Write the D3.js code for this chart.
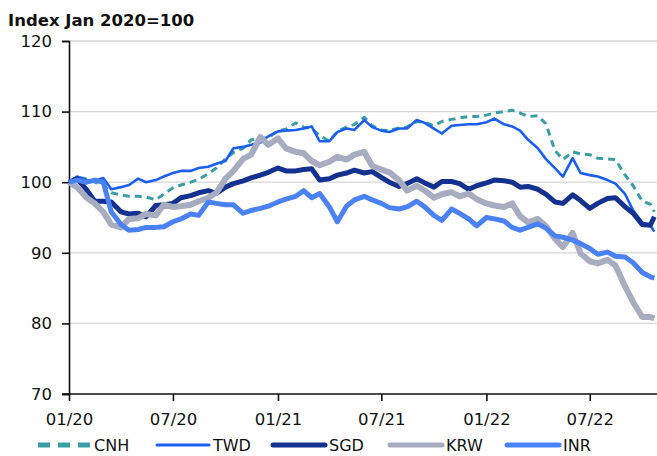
<!DOCTYPE html>
<html>
<head>
<meta charset="utf-8">
<script src="https://cdn.jsdelivr.net/npm/d3@7"></script>
<style>
  body { margin: 0; background: #fff; }
  text { font-family: 'DejaVu Sans', sans-serif; fill: #111; }
</style>
</head>
<body>
<svg id="svg"></svg>
<script>
// semi-monthly readings, index Jan 2020 = 100
const dates = [
  '2020-01-01','2020-01-15','2020-02-01','2020-02-15','2020-03-01','2020-03-15','2020-04-01','2020-04-15',
  '2020-05-01','2020-05-15','2020-06-01','2020-06-15','2020-07-01','2020-07-15','2020-08-01','2020-08-15',
  '2020-09-01','2020-09-15','2020-10-01','2020-10-15','2020-11-01','2020-11-15','2020-12-01','2020-12-15',
  '2021-01-01','2021-01-15','2021-02-01','2021-02-15','2021-03-01','2021-03-15','2021-04-01','2021-04-15',
  '2021-05-01','2021-05-15','2021-06-01','2021-06-15','2021-07-01','2021-07-15','2021-08-01','2021-08-15',
  '2021-09-01','2021-09-15','2021-10-01','2021-10-15','2021-11-01','2021-11-15','2021-12-01','2021-12-15',
  '2022-01-01','2022-01-15','2022-02-01','2022-02-15','2022-03-01','2022-03-15','2022-04-01','2022-04-15',
  '2022-05-01','2022-05-15','2022-06-01','2022-06-15','2022-07-01','2022-07-15','2022-08-01','2022-08-15',
  '2022-09-01','2022-09-15','2022-10-01','2022-10-15','2022-10-22'
]

const cnh = [
  100.0,100.7,100.5,100.0,99.6,98.5,98.2,98.0,98.0,97.9,97.5,98.3,99.2,99.6,100.0,100.4,
  101.2,102.0,103.3,104.2,104.8,106.0,106.2,106.3,107.3,107.5,108.4,107.8,107.6,106.6,105.8,107.2,
  107.8,108.2,109.2,108.0,107.4,107.3,107.7,107.8,108.6,108.5,108.0,108.6,108.9,109.1,109.3,109.3,
  109.5,109.8,110.0,110.2,109.8,109.3,109.4,108.3,104.5,103.2,104.3,104.0,103.9,103.4,103.3,103.2,
  101.0,99.5,97.3,96.9,95.8
]
const twd = [
  100.0,100.8,100.3,100.2,100.6,99.0,99.3,99.6,100.5,100.0,100.3,100.8,101.3,101.6,101.6,102.0,
  102.2,102.6,103.0,104.8,105.0,105.3,105.6,106.5,107.2,107.3,107.4,107.6,107.9,105.8,105.8,107.1,
  107.6,107.4,108.8,107.8,107.3,107.1,107.6,107.6,108.8,108.4,107.6,106.9,108.0,108.1,108.2,108.2,
  108.5,109.0,108.2,107.9,107.3,106.0,104.8,103.3,102.0,100.8,103.4,101.3,101.0,100.8,100.3,99.8,
  98.3,96.0,94.3,93.9,93.0
]
const sgd = [
  100.0,100.5,98.9,97.3,97.3,97.2,95.8,95.5,95.6,95.1,96.7,96.8,97.0,97.8,98.1,98.5,
  98.8,98.4,99.3,99.8,100.2,100.6,101.0,101.4,102.0,101.6,101.6,101.8,101.9,100.3,100.5,101.0,
  101.3,101.7,101.3,101.5,100.7,100.0,99.4,99.8,100.5,99.9,99.3,100.1,100.1,99.8,99.0,99.5,
  99.9,100.3,100.2,100.0,99.3,99.4,99.0,98.3,97.2,97.0,98.2,97.4,96.3,97.0,97.7,97.8,
  96.5,95.6,94.0,93.9,95.1
]
const krw = [
  100.0,99.3,97.8,97.0,95.8,94.0,93.6,94.8,94.9,95.5,95.3,96.8,96.5,96.6,96.8,97.3,
  97.8,98.5,100.5,101.6,103.3,103.9,106.4,105.3,106.2,104.8,104.3,104.1,103.0,102.4,102.9,103.6,
  103.2,103.9,104.3,102.3,101.8,101.4,100.3,98.8,99.5,98.8,97.8,98.3,98.6,98.0,98.4,97.6,
  97.0,96.7,96.5,97.0,95.2,94.3,94.8,93.8,92.0,90.8,92.8,89.9,88.8,88.5,89.0,88.2,
  85.2,83.0,80.9,80.9,80.7
]
const inr = [
  100.0,100.3,100.0,100.3,100.0,95.8,94.0,93.2,93.3,93.6,93.6,93.7,94.4,94.8,95.5,95.3,
  97.2,97.0,96.8,96.8,95.6,96.0,96.3,96.6,97.2,97.6,98.0,98.8,97.8,98.4,96.5,94.4,
  96.6,97.5,98.0,97.5,97.0,96.4,96.2,96.5,97.3,96.5,95.3,94.6,96.2,95.6,94.8,93.8,
  95.0,94.8,94.5,93.6,93.2,93.6,94.1,93.5,92.4,92.2,91.8,91.3,90.6,89.8,90.1,89.5,
  89.4,88.6,87.2,86.6,86.4
]

const seriesNames = ['CNH', 'TWD', 'SGD', 'KRW', 'INR']
const seriesValues = [cnh, twd, sgd, krw, inr]
const yTicks = [70, 80, 90, 100, 110, 120]
const xTicks = ['2020-01-01', '2020-07-01', '2021-01-01', '2021-07-01', '2022-01-01', '2022-07-01']

const styles = {
  CNH: { color: '#3b9ea6', width: 3, dash: '7,5' },
  TWD: { color: '#1a5ef2', width: 2.6, dash: null },
  SGD: { color: '#13318f', width: 5, dash: null },
  KRW: { color: '#a8acc1', width: 6, dash: null },
  INR: { color: '#4a81f4', width: 5, dash: null }
}

const W = 657, H = 456
const svg = d3.select('#svg').attr('width', W).attr('height', H)
const parse = d3.utcParse('%Y-%m-%d')

const x = d3.scaleUtc()
  .domain([parse('2020-01-01'), parse('2022-10-25')])
  .range([69, 656])
const y = d3.scaleLinear().domain([70, 120]).range([394, 41])

// title
svg.append('text').attr('x', 8).attr('y', 26)
  .style('font-weight', 'bold').style('font-size', '16.5px')
  .text('Index Jan 2020=100')

// gridlines
svg.append('g').selectAll('line').data(yTicks.filter(d => d > 70)).join('line')
  .attr('x1', 69).attr('x2', W).attr('y1', d => y(d)).attr('y2', d => y(d))
  .attr('stroke', '#d6d6d6').attr('stroke-width', 1.3)

// y axis
const yAxis = svg.append('g').attr('transform', 'translate(69,0)')
  .call(d3.axisLeft(y).tickValues(yTicks).tickSize(7).tickPadding(10))
yAxis.select('.domain').attr('stroke', '#111').attr('stroke-width', 1.6)
yAxis.selectAll('.tick line').attr('stroke', '#111').attr('stroke-width', 1.6)
yAxis.selectAll('text').style('font-size', '16.5px').style('font-family', 'DejaVu Sans').attr('fill', '#111')

// lines
const line = d3.line().x((d, i) => x(parse(dates[i]))).y(d => y(d))
seriesNames.forEach((name, k) => {
  const s = styles[name]
  svg.append('path').datum(seriesValues[k])
    .attr('d', line)
    .attr('fill', 'none')
    .attr('stroke', s.color)
    .attr('stroke-width', s.width)
    .attr('stroke-linejoin', 'round')
    .attr('stroke-dasharray', s.dash)
})

// x axis
const xAxis = svg.append('g').attr('transform', 'translate(0,394)')
  .call(d3.axisBottom(x).tickValues(xTicks.map(parse)).tickSize(7).tickPadding(12)
    .tickFormat(d3.utcFormat('%m/%y')))
xAxis.select('.domain').attr('d', `M62,0H${W}`).attr('stroke', '#111').attr('stroke-width', 1.6)
xAxis.selectAll('.tick line').attr('stroke', '#111').attr('stroke-width', 1.6)
xAxis.selectAll('text').style('font-size', '16.5px').style('font-family', 'DejaVu Sans').attr('fill', '#111')

// legend, kept just inside the bottom edge
const legendX = [38, 157, 273, 390, 507]
const lg = svg.append('g')
seriesNames.forEach((name, k) => {
  const s = styles[name]
  lg.append('line')
    .attr('x1', legendX[k]).attr('x2', legendX[k] + 52)
    .attr('y1', 445).attr('y2', 445)
    .attr('stroke', s.color)
    .attr('stroke-width', name === 'TWD' ? 3 : 5)
    .attr('stroke-dasharray', name === 'CNH' ? '12,8' : null)
    .attr('stroke-linecap', name === 'CNH' ? 'butt' : 'round')
  lg.append('text').attr('x', legendX[k] + 56).attr('y', 445)
    .attr('dy', '0.35em')
    .style('font-size', '16px').text(name)
})
</script>
</body>
</html>
